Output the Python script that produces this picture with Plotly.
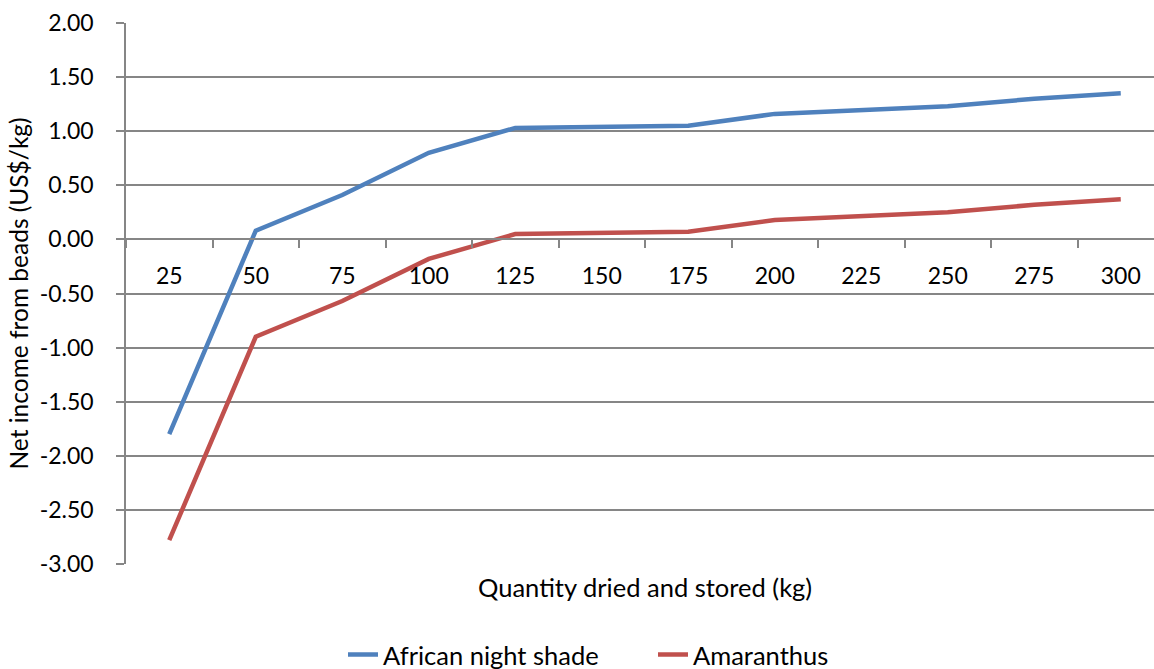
import plotly.graph_objects as go

quantities = ["25", "50", "75", "100", "125", "150", "175", "200", "225", "250", "275", "300"]
african_night_shade = [-1.80, 0.08, 0.41, 0.80, 1.03, 1.04, 1.05, 1.16, 1.20, 1.23, 1.30, 1.35]
amaranthus = [-2.78, -0.90, -0.57, -0.18, 0.05, 0.06, 0.07, 0.18, 0.22, 0.25, 0.32, 0.37]
y_ticks = [2.0, 1.5, 1.0, 0.5, 0.0, -0.5, -1.0, -1.5, -2.0, -2.5, -3.0]
y_tick_text = ["%.2f" % v for v in y_ticks]

FONT = "Lato"
FS_TICK = 23
FS_TEXT = 25.5
GRID = "#868686"

L, T, B = 126, 23, 105
W, H = 1154, 669
PW = W - L
PH = H - T - B

fig = go.Figure()
fig.add_trace(go.Scatter(x=quantities, y=african_night_shade, mode="lines",
                         name="African night shade",
                         line=dict(color="#4F81BD", width=4.5)))
fig.add_trace(go.Scatter(x=quantities, y=amaranthus, mode="lines",
                         name="Amaranthus",
                         line=dict(color="#C0504D", width=4.5)))

ymin, ymax = -3.0, 2.0
cat_w = 86.5
fig.update_layout(
    width=W, height=H,
    margin=dict(l=L, r=0, t=T, b=B, autoexpand=False),
    paper_bgcolor="white", plot_bgcolor="white",
    font=dict(family=FONT, size=FS_TEXT, color="black"),
    showlegend=True,
    legend=dict(orientation="h", x=(343 - L) / PW, xanchor="left",
                y=-(655 - (T + PH)) / PH, yanchor="middle",
                entrywidth=265, entrywidthmode="pixels",
                font=dict(size=FS_TEXT), traceorder="normal"),
    xaxis=dict(type="category", range=[-0.5, -0.5 + PW / cat_w], tickson="boundaries",
               anchor="free", position=(0 - ymin) / (ymax - ymin),
               showline=True, linecolor=GRID, linewidth=1.5,
               ticks="outside", ticklen=8, tickcolor=GRID, tickwidth=1.5,
               showgrid=False, zeroline=False, ticklabelstandoff=16,
               automargin=False, tickfont=dict(size=FS_TICK)),
    yaxis=dict(range=[ymin, ymax], tickvals=y_ticks, ticktext=y_tick_text,
               showline=True, linecolor=GRID, linewidth=1.5,
               ticks="outside", ticklen=8, tickcolor=GRID, tickwidth=1.5,
               showgrid=True, gridcolor=GRID, gridwidth=1.5,
               zeroline=False, ticklabelstandoff=18, automargin=False,
               tickfont=dict(size=FS_TICK)),
)

fig.add_annotation(text="Quantity dried and stored (kg)", xref="paper", yref="paper",
                   x=(645 - L) / PW, y=-(587 - (T + PH)) / PH, xanchor="center", yanchor="middle",
                   showarrow=False, font=dict(size=FS_TEXT))
fig.add_annotation(text="Net income from beads (US$/kg)", xref="paper", yref="paper",
                   x=(18 - L) / PW, y=0.5, xanchor="center", yanchor="middle", textangle=-90,
                   showarrow=False, font=dict(size=FS_TEXT - 1))

fig.write_html("out.html", config={"displayModeBar": False},
               post_script="document.body.style.margin='0';")
